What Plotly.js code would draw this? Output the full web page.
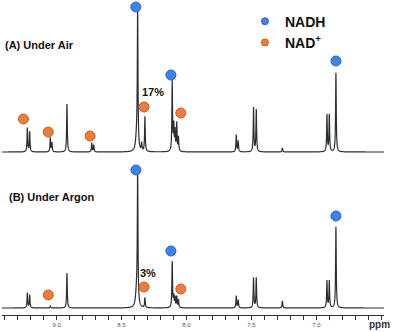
<!DOCTYPE html>
<html>
<head>
<meta charset="utf-8">
<script src="https://cdn.plot.ly/plotly-3.0.1.min.js"></script>
<style>
  html, body { margin: 0; padding: 0; background: #fff; }
  #chart { width: 393px; height: 332px; }
</style>
</head>
<body>
<div id="chart"></div>
<script>
// peak lists: shift (ppm), height (a.u.)
const airPpm    = [9.225, 9.207, 9.048, 9.036, 8.920, 8.729, 8.714, 8.384, 8.376, 8.345, 8.320, 8.110, 8.098, 8.088, 8.075, 8.062, 7.617, 7.602, 7.484, 7.463, 7.262, 6.919, 6.901, 6.850];
const airHeight = [24,    20,    14,    9,     48,    9,     7,     14,    137,   8,     35,    70,    25,    20,    28,    14,    17,    11,    44,    42,    4,     37,    37,    79];
const argonPpm    = [9.225, 9.207, 9.048, 8.920, 8.384, 8.376, 8.320, 8.110, 8.098, 8.088, 8.075, 8.062, 7.617, 7.602, 7.484, 7.463, 7.262, 6.919, 6.901, 6.850];
const argonHeight = [15,    13,    2,     35,    16,    130,   10,    46,    11,    10,    11,    8,     12,    8,     30,    30,    7,     27,    27,    81];

// marker labels (ppm, height above baseline)
const airNadhPpm = [8.390, 8.120, 6.850];
const airNadhY   = [145, 77, 91];
const airNadPpm  = [9.255, 9.064, 8.742, 8.327, 8.044];
const airNadY    = [33, 20, 16, 45, 39];
const argonNadhPpm = [8.389, 8.120, 6.850];
const argonNadhY   = [138, 57, 92];
const argonNadPpm  = [9.064, 8.327, 8.044];
const argonNadY    = [13, 21, 19];

const tickVals = [9.0, 8.5, 8.0, 7.5, 7.0];

const airOffset = 163;   // vertical stacking of the two spectra
const argonOffset = 7;
const hw = 0.003;

function spectrum(ppm, height, offset) {
  const xs = [], ys = [];
  for (let i = 0; i <= 2960; i++) {
    const x = 9.44 - i * 0.001;
    let y = 0;
    ppm.forEach((c, k) => {
      const w = Math.abs(c - 8.384) < 1e-6 ? 0.009 : hw;
      const d = (x - c) / w;
      y += height[k] / (1 + d * d);
    });
    xs.push(x);
    ys.push(y + offset);
  }
  return { xs, ys };
}

const sA = spectrum(airPpm, airHeight, airOffset);
const sB = spectrum(argonPpm, argonHeight, argonOffset);

const lineStyle = { color: '#2a2f33', width: 1.2, simplify: false };
const blue = { color: '#3f82ea', size: 10, line: { color: '#2c63bd', width: 1 } };
const orange = { color: '#ee7c3a', size: 10, line: { color: '#c65e23', width: 1 } };

const traces = [
  { x: sA.xs, y: sA.ys, mode: 'lines', line: lineStyle, showlegend: false, hoverinfo: 'skip' },
  { x: sB.xs, y: sB.ys, mode: 'lines', line: lineStyle, showlegend: false, hoverinfo: 'skip' },
  { x: airNadhPpm.concat(argonNadhPpm), y: airNadhY.map(v => v + airOffset).concat(argonNadhY.map(v => v + argonOffset)),
    mode: 'markers', marker: blue, showlegend: false },
  { x: airNadPpm.concat(argonNadPpm), y: airNadY.map(v => v + airOffset).concat(argonNadY.map(v => v + argonOffset)),
    mode: 'markers', marker: orange, showlegend: false },
  // legend entries
  { x: [null], y: [null], mode: 'markers', name: '<b>NADH</b>', marker: { color: '#3f82ea', size: 7, line: { color: '#2c63bd', width: 1 } } },
  { x: [null], y: [null], mode: 'markers', name: '<b>NAD<sup>+</sup></b>', marker: { color: '#ee7c3a', size: 7, line: { color: '#c65e23', width: 1 } } }
];

const layout = {
  width: 393,
  height: 332,
  margin: { l: 2, r: 9, t: 0, b: 17 },
  paper_bgcolor: '#fff',
  plot_bgcolor: '#fff',
  font: { family: 'Liberation Sans, Arial, sans-serif', color: '#111' },
  xaxis: {
    range: [9.42, 6.48],
    tickvals: tickVals,
    ticktext: tickVals.map(v => v.toFixed(1)),
    ticks: 'outside',
    ticklen: 4,
    tickcolor: '#333',
    tickfont: { size: 6, color: '#555' },
    showline: true,
    linecolor: '#333',
    linewidth: 1,
    showgrid: false,
    zeroline: false,
    minor: { dtick: 0.1, ticks: 'outside', ticklen: 4, tickcolor: '#333', showgrid: false }
  },
  yaxis: { range: [0, 315], visible: false, fixedrange: true },
  showlegend: true,
  legend: {
    x: 0.636, y: 0.982, xanchor: 'left', yanchor: 'top',
    bgcolor: 'rgba(0,0,0,0)',
    font: { size: 14, color: '#111', family: 'Liberation Sans, Arial, sans-serif' },
    tracegroupgap: 0
  },
  annotations: [
    { xref: 'paper', yref: 'paper', x: 0.003, y: 0.857, xanchor: 'left', yanchor: 'middle', showarrow: false,
      text: '<b>(A) Under Air</b>', font: { size: 11, color: '#111' } },
    { xref: 'paper', yref: 'paper', x: 0.013, y: 0.375, xanchor: 'left', yanchor: 'middle', showarrow: false,
      text: '<b>(B) Under Argon</b>', font: { size: 11, color: '#111' } },
    { x: 8.258, y: airOffset + 60, showarrow: false, text: '<b>17%</b>', font: { size: 11, color: '#111' } },
    { x: 8.297, y: argonOffset + 35, showarrow: false, text: '<b>3%</b>', font: { size: 11, color: '#111' } },
    { xref: 'paper', yref: 'paper', x: 1.022, y: -0.029, xanchor: 'right', yanchor: 'middle', showarrow: false,
      text: '<b>ppm</b>', font: { size: 10, color: '#333' } }
  ]
};

Plotly.newPlot('chart', traces, layout, { displayModeBar: false, staticPlot: true });
</script>
</body>
</html>
